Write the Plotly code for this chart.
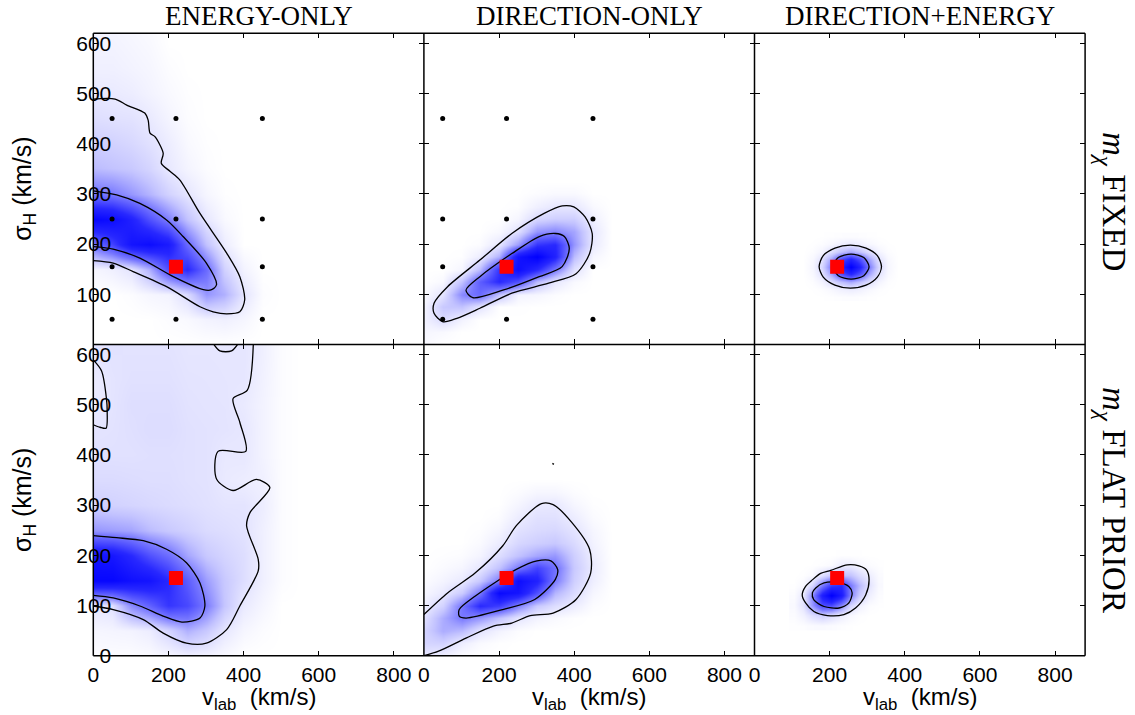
import plotly.graph_objects as go

# ---------------- labels / ticks ----------------
col_titles = ["ENERGY-ONLY", "DIRECTION-ONLY", "DIRECTION+ENERGY"]
row_titles = ["<i>m</i><sub><i>χ</i></sub> FIXED", "<i>m</i><sub><i>χ</i></sub> FLAT PRIOR"]
x_ticks = [0, 200, 400, 600, 800]
y_ticks = [0, 100, 200, 300, 400, 500, 600]
x_label = "v<sub>lab</sub>  (km/s)"
y_label = "σ<sub>H</sub> (km/s)"

# true value (red square) and benchmark grid (black dots)
true_v = [220]
true_sigma = [155]
grid_v = [50, 220, 450]
grid_sigma = [50, 155, 250, 450]

# ---------------- panel A: energy-only, m fixed ----------------
A_x = [0, 50, 100, 150, 200, 250, 300, 350, 400, 450, 500]
A_y = [0, 50, 100, 150, 200, 250, 300, 350, 400, 450, 500, 550, 600, 650]
A_z = [
    [0, 0, 0, 0, 0, 0, 0, 0, 0, 0, 0],
    [0, 0, 0, 0, 0.1, 0.2, 0.4, 0.5, 0.3, 0, 0],
    [0, 0, 0.1, 0.3, 0.4, 1.2, 3.2, 2.5, 0.9, 0.1, 0],
    [0.3, 0.5, 0.9, 2.5, 5.5, 7, 4.5, 1.5, 0.4, 0, 0],
    [4.3, 6, 8.5, 9, 8, 4.5, 2, 0.6, 0, 0, 0],
    [9.5, 9, 7.5, 5.5, 3.8, 2.0, 0.8, 0.2, 0, 0, 0],
    [4.2, 4.0, 3.2, 2.4, 1.5, 0.85, 0.3, 0.05, 0, 0, 0],
    [2.2, 2.0, 1.8, 1.4, 0.75, 0.35, 0.1, 0, 0, 0, 0],
    [1.6, 1.5, 1.3, 1.0, 0.6, 0.2, 0.05, 0, 0, 0, 0],
    [1.1, 1.0, 0.95, 0.7, 0.35, 0.1, 0, 0, 0, 0, 0],
    [0.75, 0.7, 0.6, 0.4, 0.2, 0.05, 0, 0, 0, 0, 0],
    [0.5, 0.5, 0.4, 0.3, 0.1, 0, 0, 0, 0, 0, 0],
    [0.4, 0.4, 0.3, 0.2, 0, 0, 0, 0, 0, 0, 0],
    [0.3, 0.3, 0.2, 0.1, 0, 0, 0, 0, 0, 0, 0],
]
A_outer_x = [0, 58, 89, 137, 146, 151, 164, 186, 181, 204, 230, 284, 355, 390, 403, 390, 355, 319, 284, 195, 106, 53, 0]
A_outer_y = [489, 489, 477, 461, 447, 421, 414, 381, 361, 345, 328, 261, 182, 135, 89, 65, 61, 65, 75, 115, 145, 162, 167]
A_inner_x = [0, 62, 124, 195, 239, 301, 328, 315, 293, 213, 124, 53, 0]
A_inner_y = [306, 298, 281, 248, 215, 162, 119, 109, 109, 135, 172, 190, 195]

# ---------------- panel B: direction-only, m fixed ----------------
B_x = [0, 50, 100, 150, 200, 250, 300, 350, 400, 450, 500]
B_y = [0, 25, 50, 75, 100, 125, 150, 175, 200, 225, 250, 275, 300, 325, 350]
B_z = [
    [0.2, 0, 0, 0, 0, 0, 0, 0, 0, 0, 0],
    [0.3, 0.2, 0, 0, 0, 0, 0, 0, 0, 0, 0],
    [0.4, 1.2, 0.4, 0, 0, 0, 0, 0, 0, 0, 0],
    [0.3, 1.8, 2, 0.9, 0.05, 0.05, 0, 0, 0, 0, 0],
    [0.1, 0.9, 3.6, 4.5, 2.0, 0.4, 0.3, 0.1, 0, 0, 0],
    [0, 0.2, 2, 5, 7, 5.5, 2.2, 0.8, 0.2, 0, 0],
    [0, 0, 0.3, 2.2, 6.5, 9, 7, 4, 1, 0, 0],
    [0, 0, 0.05, 0.6, 2.5, 8.5, 10, 7.5, 2.2, 0.3, 0],
    [0, 0, 0, 0.1, 0.8, 3.0, 6.5, 7, 3.2, 0.7, 0],
    [0, 0, 0, 0, 0.2, 1.0, 3.2, 3.6, 2.8, 0.8, 0],
    [0, 0, 0, 0, 0, 0.3, 1.3, 1.6, 1.6, 0.5, 0],
    [0, 0, 0, 0, 0, 0.05, 0.5, 0.8, 0.8, 0.2, 0],
    [0, 0, 0, 0, 0, 0, 0.1, 0.2, 0.2, 0, 0],
    [0, 0, 0, 0, 0, 0, 0, 0, 0, 0, 0],
    [0, 0, 0, 0, 0, 0, 0, 0, 0, 0, 0],
]
B_outer_x = [27, 51, 88, 149, 234, 332, 405, 441, 448, 429, 399, 368, 320, 234, 149, 63, 27, 27]
B_outer_y = [62, 45, 52, 72, 102, 122, 141, 181, 221, 254, 274, 276, 261, 221, 168, 115, 82, 62]
B_inner_x = [112, 130, 210, 307, 368, 387, 374, 350, 307, 234, 149, 112]
B_inner_y = [108, 93, 108, 135, 155, 191, 215, 221, 215, 181, 135, 108]

# ---------------- panel C: direction+energy, m fixed ----------------
C_x = [130, 155, 180, 205, 230, 255, 280, 305, 330, 355, 380]
C_y = [95, 110, 125, 140, 155, 170, 185, 200, 215]
C_z = [
    [0, 0, 0.01, 0.04, 0.08, 0.1, 0.08, 0.04, 0.01, 0, 0],
    [0, 0.02, 0.08, 0.26, 0.49, 0.65, 0.49, 0.26, 0.08, 0.02, 0],
    [0, 0.08, 0.35, 1.1, 2.0, 2.7, 2.0, 1.1, 0.35, 0.08, 0],
    [0, 0.22, 0.94, 2.9, 5.4, 7.2, 5.4, 2.9, 0.94, 0.22, 0],
    [0, 0.3, 1.3, 4, 7.5, 10, 7.5, 4, 1.3, 0.3, 0],
    [0, 0.22, 0.94, 2.9, 5.4, 7.2, 5.4, 2.9, 0.94, 0.22, 0],
    [0, 0.08, 0.35, 1.1, 2.0, 2.7, 2.0, 1.1, 0.35, 0.08, 0],
    [0, 0.02, 0.08, 0.26, 0.49, 0.65, 0.49, 0.26, 0.08, 0.02, 0],
    [0, 0, 0.01, 0.04, 0.08, 0.1, 0.08, 0.04, 0.01, 0, 0],
]
C_outer_x = [338, 327, 297, 255, 214, 183, 172, 183, 214, 255, 297, 327, 338]
C_outer_y = [155, 177, 192, 198, 192, 177, 155, 134, 118, 112, 118, 134, 155]
C_inner_x = [305, 291, 257, 223, 209, 223, 257, 291, 305]
C_inner_y = [155, 173, 180, 173, 155, 137, 130, 137, 155]

# ---------------- panel D: energy-only, flat prior on m ----------------
D_x = [0, 50, 100, 150, 200, 250, 300, 350, 400, 450, 500, 550]
D_y = [0, 50, 100, 150, 200, 250, 300, 350, 400, 450, 500, 550, 600, 650]
D_z = [
    [0.1, 0.1, 0.1, 0.15, 0.3, 0.5, 0.4, 0.2, 0, 0, 0, 0],
    [0.3, 0.35, 0.4, 0.6, 1.4, 2.5, 1.8, 0.8, 0.3, 0.1, 0, 0],
    [0.8, 1.0, 3.5, 4.8, 6.5, 5.8, 3.9, 1.9, 0.7, 0.3, 0, 0],
    [9.5, 9.5, 8.8, 8.5, 7, 5, 3.0, 1.8, 1.1, 0.5, 0.1, 0],
    [8.5, 8.3, 7, 5.5, 4.4, 2.8, 1.8, 1.4, 1.1, 0.5, 0.1, 0],
    [3.2, 3, 2.8, 2.2, 1.8, 1.5, 1.2, 1.1, 0.95, 0.5, 0.1, 0],
    [1.6, 1.5, 1.4, 1.3, 1.2, 1.1, 1.0, 0.9, 0.9, 0.6, 0.1, 0],
    [1.2, 1.2, 1.15, 1.1, 1.1, 1.0, 0.95, 0.7, 0.6, 0.5, 0.1, 0],
    [1.0, 1.0, 1.0, 1.05, 1.05, 1.0, 0.95, 0.75, 0.78, 0.4, 0.1, 0],
    [0.9, 0.95, 1.05, 1.15, 1.15, 1.0, 0.95, 0.9, 0.8, 0.4, 0.1, 0],
    [0.65, 0.9, 1.1, 1.1, 1.1, 0.95, 0.9, 0.88, 0.7, 0.4, 0.1, 0],
    [0.65, 0.9, 1.0, 1.0, 1.0, 0.9, 0.88, 0.85, 0.82, 0.45, 0.1, 0],
    [0.85, 0.95, 0.95, 0.95, 0.95, 0.85, 0.85, 0.83, 0.85, 0.5, 0.1, 0],
    [0.9, 1, 0.9, 0.9, 0.9, 0.8, 0.75, 0.7, 0.8, 0.5, 0.1, 0],
]
D_outer_x = [426, 410, 372, 390, 406, 332, 328, 372, 434, 470, 417, 408, 439, 439, 390, 355, 301, 248, 186, 133, 53, 0,
             None, 319, 337, 368, 386,
             None, 0, 22, 35, 37, 34, 18, 0]
D_outer_y = [622, 529, 512, 465, 407, 407, 352, 329, 351, 335, 285, 259, 192, 169, 99, 52, 25, 25, 45, 72, 92, 99,
             None, 622, 607, 607, 622,
             None, 589, 567, 512, 485, 453, 455, 460]
D_inner_x = [0, 62, 133, 195, 248, 284, 297, 284, 236, 186, 124, 53, 0]
D_inner_y = [239, 235, 229, 212, 185, 145, 99, 75, 67, 79, 99, 115, 120]

# ---------------- panel E: direction-only, flat prior on m ----------------
E_x = [0, 50, 100, 150, 200, 250, 300, 350, 400, 450, 500]
E_y = [0, 25, 50, 75, 100, 125, 150, 175, 200, 225, 250, 275, 300, 325, 350]
E_z = [
    [0.8, 0.5, 0.1, 0, 0, 0, 0, 0, 0, 0, 0],
    [1.4, 1.5, 0.6, 0.2, 0.05, 0, 0, 0, 0, 0, 0],
    [1.4, 2.6, 2.2, 0.9, 0.4, 0.1, 0, 0, 0, 0, 0],
    [0.95, 2.6, 4.0, 3.2, 2.0, 0.9, 0.4, 0.2, 0.05, 0, 0],
    [0.5, 1.5, 4.1, 7, 6.2, 3.8, 1.8, 1.1, 0.6, 0.1, 0],
    [0.25, 0.7, 1.7, 4, 9.3, 8.5, 5.5, 2.4, 1.2, 0.3, 0],
    [0.1, 0.35, 0.7, 1.8, 3.9, 9, 7.5, 3.9, 1.6, 0.55, 0],
    [0, 0.15, 0.3, 0.8, 2.0, 3.9, 6, 4.3, 1.8, 0.65, 0],
    [0, 0.05, 0.1, 0.35, 1.1, 2.0, 2.8, 3.2, 1.6, 0.55, 0],
    [0, 0, 0, 0.15, 0.6, 1.3, 1.6, 1.8, 1.2, 0.4, 0],
    [0, 0, 0, 0.05, 0.3, 0.95, 1.2, 1.3, 0.9, 0.3, 0],
    [0, 0, 0, 0, 0.1, 0.6, 1.0, 1.0, 0.6, 0.15, 0],
    [0, 0, 0, 0, 0, 0.3, 0.7, 0.75, 0.3, 0.05, 0],
    [0, 0, 0, 0, 0, 0.1, 0.3, 0.3, 0.1, 0, 0],
    [0, 0, 0, 0, 0, 0, 0, 0, 0, 0, 0],
]
E_outer_x = [0, 63, 137, 210, 246, 313, 344, 393, 441, 444, 405, 344, 283, 234, 185, 112, 39, 0,
             None, 342, 346]
E_outer_y = [82, 125, 165, 219, 259, 303, 301, 266, 212, 165, 112, 85, 80, 65, 59, 35, 9, 0,
             None, 383, 381]
E_inner_x = [94, 112, 210, 295, 350, 356, 338, 301, 246, 137, 94, 94]
E_inner_y = [79, 75, 92, 112, 152, 172, 189, 189, 172, 119, 92, 79]

# ---------------- panel F: direction+energy, flat prior on m ----------------
F_x = [105, 130, 155, 180, 205, 230, 255, 280, 305, 330]
F_y = [60, 80, 100, 120, 140, 160, 180, 200]
F_z = [
    [0.02, 0.07, 0.18, 0.2, 0.15, 0.07, 0.02, 0, 0, 0],
    [0.12, 0.43, 1.1, 1.6, 1.1, 0.6, 0.22, 0.06, 0, 0],
    [0.2, 0.95, 3.2, 5.6, 5.7, 3.6, 1.4, 0.5, 0.1, 0.02],
    [0.12, 0.76, 3.4, 7.8, 10, 8, 3.8, 1.7, 0.52, 0.1],
    [0.02, 0.24, 1.3, 4.0, 6.3, 6.9, 4.0, 2.3, 0.9, 0.2],
    [0, 0.04, 0.2, 1.0, 1.8, 2.1, 2.0, 1.2, 0.57, 0.14],
    [0, 0, 0.02, 0.08, 0.17, 0.6, 0.6, 0.3, 0.12, 0.04],
    [0, 0, 0, 0, 0, 0.04, 0.03, 0.02, 0, 0],
]
F_outer_x = [127, 136, 158, 194, 238, 269, 296, 305, 298, 278, 247, 203, 176, 154, 136, 127]
F_outer_y = [121, 105, 88, 80, 82, 95, 121, 151, 171, 179, 181, 170, 164, 151, 138, 121]
F_inner_x = [154, 158, 185, 225, 251, 260, 251, 221, 185, 163, 154]
F_inner_y = [125, 111, 98, 95, 105, 125, 138, 146, 145, 135, 125]

panels = [
    (A_x, A_y, A_z, A_outer_x, A_outer_y, A_inner_x, A_inner_y, True),
    (B_x, B_y, B_z, B_outer_x, B_outer_y, B_inner_x, B_inner_y, True),
    (C_x, C_y, C_z, C_outer_x, C_outer_y, C_inner_x, C_inner_y, False),
    (D_x, D_y, D_z, D_outer_x, D_outer_y, D_inner_x, D_inner_y, False),
    (E_x, E_y, E_z, E_outer_x, E_outer_y, E_inner_x, E_inner_y, False),
    (F_x, F_y, F_z, F_outer_x, F_outer_y, F_inner_x, F_inner_y, False),
]

# ---------------- layout geometry ----------------
W, H = 1135, 715
col_px = [93.3, 423.9, 754.5, 1085.1]
row_px = [33.3, 344.4, 655.7]
col_edges = [p / W for p in col_px]
row_edges = [1 - p / H for p in row_px]  # top, mid, bottom
X_RANGE = [0, 880]
Y_RANGE = [0, 620]
BLUES = [[0, "rgb(255,255,255)"], [0.05, "rgb(240,240,255)"], [0.2, "rgb(195,195,255)"],
         [0.4, "rgb(120,120,255)"], [0.7, "rgb(40,40,255)"], [1, "rgb(0,0,255)"]]
SANS = "Liberation Sans, Arial, sans-serif"
SERIF = "Liberation Serif, Times New Roman, serif"

dots_x = [v for s in grid_sigma for v in grid_v]
dots_y = [s for s in grid_sigma for v in grid_v]

fig = go.Figure()
layout_axes = {}
for i, (hx, hy, hz, ox, oy, ix, iy, show_dots) in enumerate(panels):
    k = i + 1
    xa = "x" if k == 1 else f"x{k}"
    ya = "y" if k == 1 else f"y{k}"
    row, col = divmod(i, 3)
    fig.add_trace(go.Heatmap(x=hx, y=hy, z=hz, zsmooth="best", colorscale=BLUES,
                             zmin=0, zmax=10, showscale=False, hoverinfo="skip",
                             xaxis=xa, yaxis=ya))
    for cx, cy in ((ox, oy), (ix, iy)):
        fig.add_trace(go.Scatter(x=cx, y=cy, mode="lines", xaxis=xa, yaxis=ya,
                                 line=dict(color="black", width=1.3, shape="spline", smoothing=0.8),
                                 connectgaps=False, showlegend=False, hoverinfo="skip"))
    if show_dots:
        fig.add_trace(go.Scatter(x=dots_x, y=dots_y, mode="markers", xaxis=xa, yaxis=ya,
                                 marker=dict(color="black", size=5), showlegend=False,
                                 hoverinfo="skip"))
    fig.add_trace(go.Scatter(x=true_v, y=true_sigma, mode="markers", xaxis=xa, yaxis=ya,
                             marker=dict(color="rgb(255,0,0)", size=14, symbol="square",
                                         line=dict(width=0)),
                             showlegend=False, hoverinfo="skip"))

    axis_common = dict(ticks="inside", ticklen=5, tickwidth=1, tickcolor="black",
                       mirror="allticks", showline=False, automargin=False,
                       showgrid=False, zeroline=False,
                       tickfont=dict(family=SANS, size=21, color="black"))
    xkey = "xaxis" if k == 1 else f"xaxis{k}"
    ykey = "yaxis" if k == 1 else f"yaxis{k}"
    layout_axes[xkey] = dict(axis_common, domain=[col_edges[col], col_edges[col + 1]],
                             range=X_RANGE, tickvals=x_ticks,
                             ticktext=[str(t) for t in x_ticks], ticklabelstandoff=4,
                             showticklabels=(row == 1), anchor=ya)
    y_text = [str(t) for t in y_ticks]
    if row == 0:
        y_text[0] = ""
    layout_axes[ykey] = dict(axis_common, domain=[row_edges[row + 1], row_edges[row]],
                             range=Y_RANGE, tickvals=y_ticks, ticktext=y_text,
                             ticklabelstandoff=-19,
                             showticklabels=(col == 0), anchor=xa)

# panel frames drawn on top
shapes = []
for p in col_edges:
    shapes.append(dict(type="line", xref="paper", yref="paper", x0=p, x1=p,
                       y0=row_edges[2], y1=row_edges[0], layer="above",
                       line=dict(color="black", width=1.5)))
for p in row_edges:
    shapes.append(dict(type="line", xref="paper", yref="paper", y0=p, y1=p,
                       x0=col_edges[0], x1=col_edges[3], layer="above",
                       line=dict(color="black", width=1.5)))

annotations = []
for c, t in enumerate(col_titles):
    annotations.append(dict(text=t, x=(col_edges[c] + col_edges[c + 1]) / 2, y=1 - 16 / H,
                            xref="paper", yref="paper", showarrow=False,
                            xanchor="center", yanchor="middle",
                            font=dict(family=SERIF, size=27, color="black")))
    annotations.append(dict(text=x_label, x=(col_edges[c] + col_edges[c + 1]) / 2, y=1 - 698 / H,
                            xref="paper", yref="paper", showarrow=False,
                            xanchor="center", yanchor="middle",
                            font=dict(family=SANS, size=24, color="black")))
row_centers = [1 - 201 / H, 1 - 500 / H]
for r, t in enumerate(row_titles):
    annotations.append(dict(text=t, x=1112 / W, y=row_centers[r], xref="paper", yref="paper",
                            showarrow=False, textangle=90, xanchor="center", yanchor="middle",
                            font=dict(family=SERIF, size=33, color="black")))
    annotations.append(dict(text=y_label, x=24 / W, y=(row_edges[r] + row_edges[r + 1]) / 2,
                            xref="paper", yref="paper", showarrow=False, textangle=-90,
                            xanchor="center", yanchor="middle",
                            font=dict(family=SANS, size=25, color="black")))

fig.update_layout(template="none", width=W, height=H, margin=dict(l=0, r=0, t=0, b=0, pad=0),
                  paper_bgcolor="white", plot_bgcolor="white", showlegend=False,
                  annotations=annotations, shapes=shapes, **layout_axes)
fig.write_html("out.html", config={"displayModeBar": False},
               post_script="document.body.style.margin='0px';")
